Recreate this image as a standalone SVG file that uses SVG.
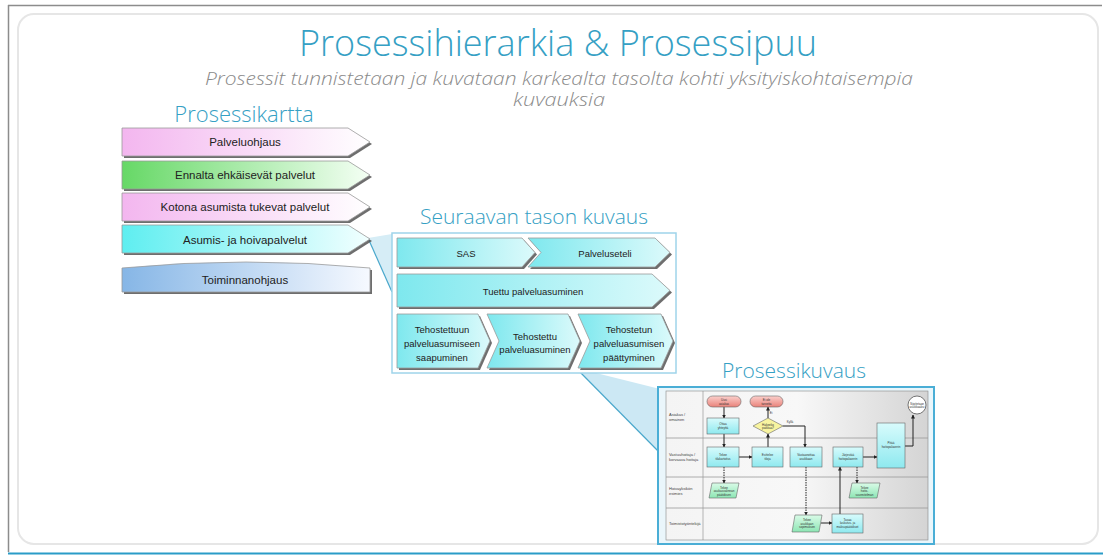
<svg xmlns="http://www.w3.org/2000/svg" width="1103" height="556" viewBox="0 0 1103 556">
<defs>
<linearGradient id="gPink" x1="0" x2="1" y1="0" y2="0"><stop offset="0" stop-color="#f3b6ef"/><stop offset="1" stop-color="#ffffff"/></linearGradient>
<linearGradient id="gGreen" x1="0" x2="1" y1="0" y2="0"><stop offset="0" stop-color="#66d866"/><stop offset="1" stop-color="#f4fff4"/></linearGradient>
<linearGradient id="gCyan" x1="0" x2="1" y1="0" y2="0"><stop offset="0" stop-color="#5eeef0"/><stop offset="1" stop-color="#f2ffff"/></linearGradient>
<linearGradient id="gBlue" x1="0" x2="1" y1="0" y2="0"><stop offset="0" stop-color="#86b6e6"/><stop offset="1" stop-color="#f6f9ff"/></linearGradient>
<linearGradient id="gCyan2" x1="0" x2="1" y1="0" y2="0"><stop offset="0" stop-color="#7ee8ee"/><stop offset="1" stop-color="#dcfafb"/></linearGradient>
<linearGradient id="gLane" x1="0" x2="1" y1="0" y2="0"><stop offset="0" stop-color="#f4f4f4"/><stop offset="0.5" stop-color="#f8f8f8"/><stop offset="1" stop-color="#d4d4d4"/></linearGradient>
<linearGradient id="gRed" x1="0" x2="0" y1="0" y2="1"><stop offset="0" stop-color="#fbd0cc"/><stop offset="1" stop-color="#e9827a"/></linearGradient>
<linearGradient id="gBox" x1="0" x2="0" y1="0" y2="1"><stop offset="0" stop-color="#d8fbfc"/><stop offset="1" stop-color="#8ee9ef"/></linearGradient>
<linearGradient id="gData" x1="0" x2="0" y1="0" y2="1"><stop offset="0" stop-color="#dafbe8"/><stop offset="1" stop-color="#8de6b4"/></linearGradient>
<marker id="ah" markerWidth="4" markerHeight="4" refX="3.5" refY="2" orient="auto" markerUnits="userSpaceOnUse"><path d="M0,0 L4,2 L0,4 Z" fill="#222"/></marker>
<style>
.ttl{font-family:"Open Sans","Liberation Sans",sans-serif;font-weight:300;fill:#35a0c4}
.sub{font-family:"Open Sans","Liberation Sans",sans-serif;font-weight:300;font-style:italic;fill:#8a8a8a;font-size:19px}
.lbl{font-family:"Liberation Sans",Arial,sans-serif;font-size:11.5px;fill:#222;text-anchor:middle;dominant-baseline:central}
.lbl2{font-family:"Liberation Sans",Arial,sans-serif;font-size:9.5px;fill:#222;text-anchor:middle;dominant-baseline:central}
.tiny{font-family:"Liberation Sans",Arial,sans-serif;font-size:3px;fill:#333;text-anchor:middle;dominant-baseline:central}
.lane{font-family:"Liberation Sans",Arial,sans-serif;font-size:4px;fill:#444}
.shp{stroke:#9a9a9a;stroke-width:0.8}
.shd{fill:#555;opacity:0.85}
.ln{stroke:#222;stroke-width:1;fill:none}
.dl{stroke:#222;stroke-width:1;fill:none;stroke-dasharray:1.5 1}
.pb{stroke:#666;stroke-width:0.6}
</style>
</defs>
<rect width="1103" height="556" fill="#ffffff"/>
<line x1="8" y1="5.5" x2="1102" y2="5.5" stroke="#8c8c8c" stroke-width="1.5"/>
<line x1="8.5" y1="5" x2="8.5" y2="552" stroke="#8c8c8c" stroke-width="1.5"/>
<line x1="8" y1="553.5" x2="1103" y2="553.5" stroke="#2a9cc8" stroke-width="2"/>
<rect x="18" y="14" width="1080" height="530" rx="16" fill="#ffffff" stroke="#e6e6e6" stroke-width="2"/>

<g id="title">
<text class="ttl" x="558" y="56" font-size="36" text-anchor="middle">Prosessihierarkia &amp; Prosessipuu</text>
<text class="sub" text-anchor="middle"><tspan x="559" y="85" textLength="708" lengthAdjust="spacingAndGlyphs">Prosessit tunnistetaan ja kuvataan karkealta tasolta kohti yksityiskohtaisempia</tspan><tspan x="559" y="106" textLength="92" lengthAdjust="spacingAndGlyphs">kuvauksia</tspan></text>
</g>

<g id="connectors">
<polygon points="368,238 392,234 392,292" fill="#d6edf6"/>
<line x1="368" y1="238" x2="392" y2="292" stroke="#4aa8cc" stroke-width="1.2"/>
<polygon points="576,368 660,389 660,453" fill="#cce8f4"/>
<line x1="576" y1="368" x2="660" y2="453" stroke="#4aa8cc" stroke-width="1.2"/>
</g>

<g id="prosessikartta">
<text class="ttl" x="244" y="122" font-size="22" text-anchor="middle">Prosessikartta</text>
<g id="palveluohjaus">
<path class="shd" d="M124,130 H350 L372,144 L350,158 H124 Z"/>
<path class="shp" fill="url(#gPink)" d="M122,128 H348 L370,142 L348,156 H122 Z"/>
<text class="lbl" x="245" y="142">Palveluohjaus</text>
</g>
<g id="ennalta">
<path class="shd" d="M124,163 H350 L372,177 L350,191 H124 Z"/>
<path class="shp" fill="url(#gGreen)" d="M122,161 H348 L370,175 L348,189 H122 Z"/>
<text class="lbl" x="245" y="175">Ennalta ehkäisevät palvelut</text>
</g>
<g id="kotona">
<path class="shd" d="M124,195 H350 L372,209 L350,223 H124 Z"/>
<path class="shp" fill="url(#gPink)" d="M122,193 H348 L370,207 L348,221 H122 Z"/>
<text class="lbl" x="245" y="207">Kotona asumista tukevat palvelut</text>
</g>
<g id="asumis">
<path class="shd" d="M124,227 H350 L372,241 L350,255 H124 Z"/>
<path class="shp" fill="url(#gCyan)" d="M122,225 H348 L370,239 L348,253 H122 Z"/>
<text class="lbl" x="245" y="240">Asumis- ja hoivapalvelut</text>
</g>
<g id="toiminnanohjaus">
<path class="shd" d="M124,270 Q248,258 372,270 V294 H124 Z"/>
<path class="shp" fill="url(#gBlue)" d="M122,268 Q246,256 370,268 V292 H122 Z"/>
<text class="lbl" x="245" y="280">Toiminnanohjaus</text>
</g>
</g>

<g id="seuraava">
<text class="ttl" x="534" y="224" font-size="21" text-anchor="middle">Seuraavan tason kuvaus</text>
<rect x="392" y="233" width="284" height="140" fill="#ffffff" stroke="#9fd4ea" stroke-width="1.5"/>
<g id="sas">
<path class="shd" d="M399,240 H524 L537,254.5 L524,269 H399 Z"/>
<path class="shp" fill="url(#gCyan2)" d="M397,238 H522 L535,252.5 L522,267 H397 Z"/>
<text class="lbl2" x="466" y="253">SAS</text>
</g>
<g id="palveluseteli">
<path class="shd" d="M530,240 H657 L672,254.5 L657,269 H530 L543,254.5 Z"/>
<path class="shp" fill="url(#gCyan2)" d="M528,238 H655 L670,252.5 L655,267 H528 L541,252.5 Z"/>
<text class="lbl2" x="605" y="253">Palveluseteli</text>
</g>
<g id="tuettu">
<path class="shd" d="M399,276 H654 L672,292.5 L654,309 H399 Z"/>
<path class="shp" fill="url(#gCyan2)" d="M397,274 H652 L670,290.5 L652,307 H397 Z"/>
<text class="lbl2" x="533" y="291">Tuettu palveluasuminen</text>
</g>
<g id="tehostettuun">
<path class="shd" d="M399,316 H480 L492,343 L480,370 H399 Z"/>
<path class="shp" fill="url(#gCyan2)" d="M397,314 H478 L490,341 L478,368 H397 Z"/>
<text class="lbl2" x="442" y="329">Tehostettuun</text>
<text class="lbl2" x="442" y="343">palveluasumiseen</text>
<text class="lbl2" x="442" y="357">saapuminen</text>
</g>
<g id="tehostettu">
<path class="shd" d="M489,316 H570 L582,343 L570,370 H489 L501,343 Z"/>
<path class="shp" fill="url(#gCyan2)" d="M487,314 H568 L580,341 L568,368 H487 L499,341 Z"/>
<text class="lbl2" x="535" y="336">Tehostettu</text>
<text class="lbl2" x="535" y="349">palveluasuminen</text>
</g>
<g id="tehostetun">
<path class="shd" d="M580,316 H663 L675,343 L663,370 H580 L592,343 Z"/>
<path class="shp" fill="url(#gCyan2)" d="M578,314 H661 L673,341 L661,368 H578 L590,341 Z"/>
<text class="lbl2" x="629" y="329">Tehostetun</text>
<text class="lbl2" x="629" y="343">palveluasumisen</text>
<text class="lbl2" x="629" y="357">päättyminen</text>
</g>
</g>

<g id="prosessikuvaus">
<text class="ttl" x="794" y="378" font-size="21" text-anchor="middle">Prosessikuvaus</text>
<rect x="658" y="387" width="276" height="157" fill="#eaf6fb" stroke="#4aaed6" stroke-width="2"/>
<rect x="666" y="391" width="262" height="149" fill="url(#gLane)" stroke="#888" stroke-width="0.6"/>
<line x1="703" y1="391" x2="703" y2="540" stroke="#888" stroke-width="0.6"/>
<line x1="666" y1="438" x2="928" y2="438" stroke="#999" stroke-width="0.8"/>
<line x1="666" y1="477" x2="928" y2="477" stroke="#999" stroke-width="0.8"/>
<line x1="666" y1="508" x2="928" y2="508" stroke="#999" stroke-width="0.8"/>
<text class="lane" x="669" y="416">Asiakas /</text>
<text class="lane" x="669" y="421">omainen</text>
<text class="lane" x="669" y="456">Vastuuhoitaja /</text>
<text class="lane" x="669" y="461">korvaava hoitaja</text>
<text class="lane" x="669" y="490">Hoivayksikön</text>
<text class="lane" x="669" y="495">esimies</text>
<text class="lane" x="669" y="525">Toimistotyöntekijä</text>

<g id="flow-lines">
<line class="ln" x1="724" y1="407" x2="724" y2="418" marker-end="url(#ah)"/>
<line class="ln" x1="724" y1="434" x2="724" y2="447" marker-end="url(#ah)"/>
<line class="ln" x1="739" y1="457" x2="752" y2="457" marker-end="url(#ah)"/>
<line class="ln" x1="768" y1="447" x2="768" y2="434" marker-end="url(#ah)"/>
<line class="ln" x1="768" y1="418" x2="768" y2="407" marker-end="url(#ah)"/>
<polyline class="ln" points="783,426 805,426 805,447" marker-end="url(#ah)"/>
<line class="dl" x1="724" y1="467" x2="724" y2="483" marker-end="url(#ah)"/>
<line class="dl" x1="806" y1="467" x2="806" y2="515" marker-end="url(#ah)"/>
<line class="ln" x1="821" y1="523" x2="832" y2="523" marker-end="url(#ah)"/>
<line class="ln" x1="840" y1="514" x2="840" y2="467" marker-end="url(#ah)"/>
<line class="ln" x1="863" y1="457" x2="877" y2="457" marker-end="url(#ah)"/>
<line class="dl" x1="857" y1="467" x2="857" y2="483" marker-end="url(#ah)"/>
<polyline class="ln" points="905,446 913,446 913,415" marker-end="url(#ah)"/>
<text class="tiny" x="790" y="422">Kyllä</text>
<text class="tiny" x="771" y="413">Ei</text>
</g>

<g id="pk-start"><rect x="707" y="396" width="34" height="11" rx="5.5" fill="url(#gRed)" class="pb"/><text class="tiny" x="724" y="400">Uusi</text><text class="tiny" x="724" y="403.5">asiakas</text></g>
<g id="pk-end2"><rect x="750" y="396" width="33" height="11" rx="5.5" fill="url(#gRed)" class="pb"/><text class="tiny" x="766.5" y="400">Ei ole</text><text class="tiny" x="766.5" y="403.5">tarvetta</text></g>
<g id="pk-end"><circle cx="917" cy="405" r="9" fill="#ffffff" stroke="#555" stroke-width="0.8"/><text class="tiny" x="917" y="403.5" fill="#c33">Sijoitetaan</text><text class="tiny" x="917" y="407" fill="#c33">asukkaaksi</text></g>
<g id="pk-ottaa"><rect x="707" y="418" width="32" height="16" fill="url(#gBox)" class="pb"/><text class="tiny" x="723" y="424">Ottaa</text><text class="tiny" x="723" y="428">yhteyttä</text></g>
<g id="pk-diamond"><polygon points="768,418 783,426 768,434 753,426" fill="#f8f4a0" class="pb"/><text class="tiny" x="768" y="424.5">Hakeeko</text><text class="tiny" x="768" y="428">paikkaa?</text></g>
<g id="pk-b1"><rect x="707" y="447" width="32" height="20" fill="url(#gBox)" class="pb"/><text class="tiny" x="723" y="455">Tekee</text><text class="tiny" x="723" y="459">tilakartoitus</text></g>
<g id="pk-b2"><rect x="752" y="447" width="31" height="20" fill="url(#gBox)" class="pb"/><text class="tiny" x="767.5" y="455">Esittelee</text><text class="tiny" x="767.5" y="459">tiloja</text></g>
<g id="pk-b3"><rect x="790" y="447" width="32" height="20" fill="url(#gBox)" class="pb"/><text class="tiny" x="806" y="455">Vastaanottaa</text><text class="tiny" x="806" y="459">asukkaan</text></g>
<g id="pk-b4"><rect x="833" y="447" width="30" height="20" fill="url(#gBox)" class="pb"/><text class="tiny" x="848" y="455">Järjestää</text><text class="tiny" x="848" y="459">hoitopalaverin</text></g>
<g id="pk-tall"><rect x="877" y="423" width="28" height="45" fill="url(#gBox)" class="pb"/><text class="tiny" x="891" y="443">Pitää</text><text class="tiny" x="891" y="447">hoitopalaverin</text></g>
<g id="pk-d1"><polygon points="712,483 739,483 736,498 709,498" fill="url(#gData)" class="pb"/><text class="tiny" x="724" y="487.5">Tekee</text><text class="tiny" x="724" y="491">asukasvalinnan</text><text class="tiny" x="724" y="494.5">päätöksen</text></g>
<g id="pk-d2"><polygon points="852,483 880,483 877,498 849,498" fill="url(#gData)" class="pb"/><text class="tiny" x="864.5" y="487.5">Tekee</text><text class="tiny" x="864.5" y="491">hoito-</text><text class="tiny" x="864.5" y="494.5">suunnitelman</text></g>
<g id="pk-d3"><polygon points="795,515 822,515 819,532 792,532" fill="url(#gData)" class="pb"/><text class="tiny" x="807" y="520">Tekee</text><text class="tiny" x="807" y="523.5">asukkaan</text><text class="tiny" x="807" y="527">sopimuksen</text></g>
<g id="pk-b5"><rect x="832" y="514" width="31" height="19" fill="url(#gBox)" class="pb"/><text class="tiny" x="847.5" y="519.5">Tasaa</text><text class="tiny" x="847.5" y="523">laskutus- ja</text><text class="tiny" x="847.5" y="526.5">maksupäätökset</text></g>
</g>
</svg>
